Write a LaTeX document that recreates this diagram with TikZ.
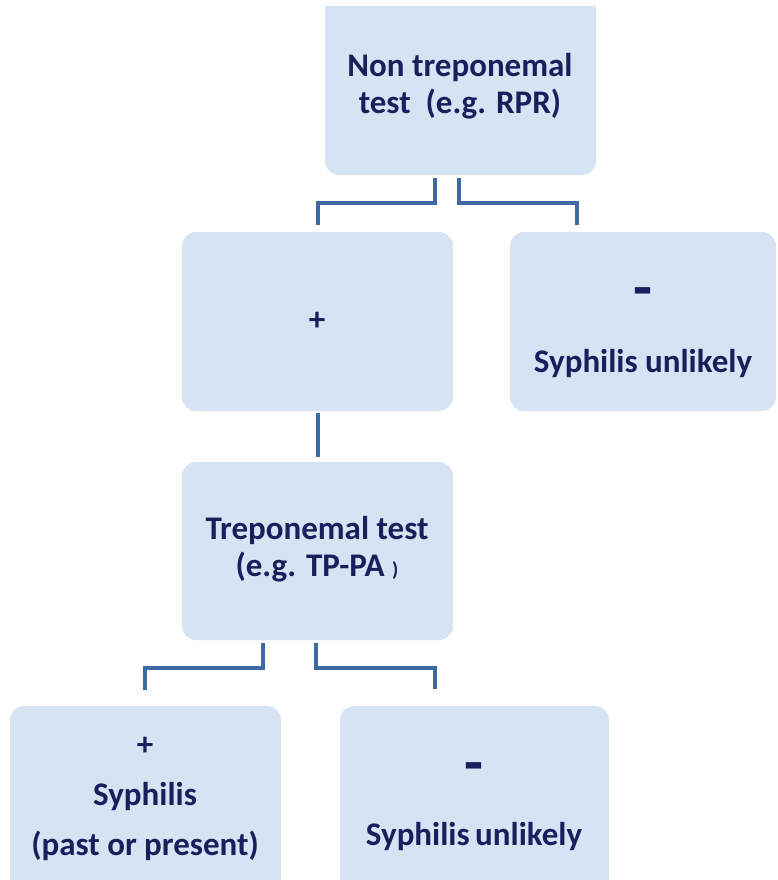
\documentclass[tikz,border=0pt]{standalone}
\usepackage{fontspec}
\setmainfont{Carlito}
\definecolor{boxfill}{RGB}{214,227,242}
\definecolor{ink}{RGB}{22,32,92}
\definecolor{linkblue}{RGB}{62,106,164}
\tikzset{
	box/.style={draw=none, fill=boxfill, rounded corners=14pt, inner sep=0pt},
	txt/.style={text=ink, font=\bfseries\fontsize{33}{37}\selectfont, align=center, inner sep=0pt},
	link/.style={draw=linkblue, line width=4pt}
}
\begin{document}
\begin{tikzpicture}[x=1pt,y=-1pt]
	
	%Background
	\useasboundingbox (0,0) rectangle (777,880);
	\clip (0,0) rectangle (777,880);
	\fill[white] (0,0) rectangle (777,880);
	
	%Boxes
	\begin{scope}
		\clip (0,7) rectangle (777,880);
		\node[box, minimum width=271pt, minimum height=190pt] (top) at (460.5,80) {};
	\end{scope}
	\node[box, minimum width=271pt, minimum height=179pt] (plus) at (317.5,321.5) {};
	\node[box, minimum width=266pt, minimum height=179pt] (minus) at (643,321.5) {};
	\node[box, minimum width=271pt, minimum height=178pt] (trep) at (317.5,551) {};
	\node[box, minimum width=271pt, minimum height=200pt] (pos) at (145.5,806) {};
	\node[box, minimum width=269pt, minimum height=200pt] (neg) at (474.5,806) {};
	
	%Texts
	\node[txt] (topTxt) at (460,86) {Non treponemal\\test~~(e.g. RPR)};
	\node[txt] (plusTxt) at (317,321) {+};
	\node[txt, font=\bfseries\fontsize{62}{62}\selectfont] (minusSign) at (643,298) {-};
	\node[txt] (minusTxt) at (643,364) {Syphilis unlikely};
	\node[txt] (trepTxt) at (317,549) {Treponemal test\\(e.g. TP-PA {\fontsize{20}{20}\selectfont)}};
	\node[txt, font=\bfseries\fontsize{33}{50}\selectfont] (posTxt) at (145,799) {+\\Syphilis\\(past or present)};
	\node[txt, font=\bfseries\fontsize{62}{62}\selectfont] (negSign) at (474,773) {-};
	\node[txt] (negTxt) at (474,837) {Syphilis\,unlikely};
	
	%Links
	\draw[link, shorten >=7pt] ([xshift=-25.5pt,yshift=-3pt]top.south) -- ++(0,25) -| (plus.north);
	\draw[link, shorten >=7pt] ([xshift=-1.5pt,yshift=-3pt]top.south) -- ++(0,25) -| ([xshift=-66pt]minus.north);
	\draw[link, shorten <=2pt, shorten >=5pt] (plus.south) -- (trep.north);
	\draw[link, shorten >=16pt] ([xshift=-54.5pt,yshift=-3pt]trep.south) -- ++(0,25) -| ([xshift=-0.5pt]pos.north);
	\draw[link, shorten >=17pt] ([xshift=-1.5pt,yshift=-3pt]trep.south) -- ++(0,25) -| ([xshift=-39.5pt]neg.north);
	
\end{tikzpicture}
\end{document}
